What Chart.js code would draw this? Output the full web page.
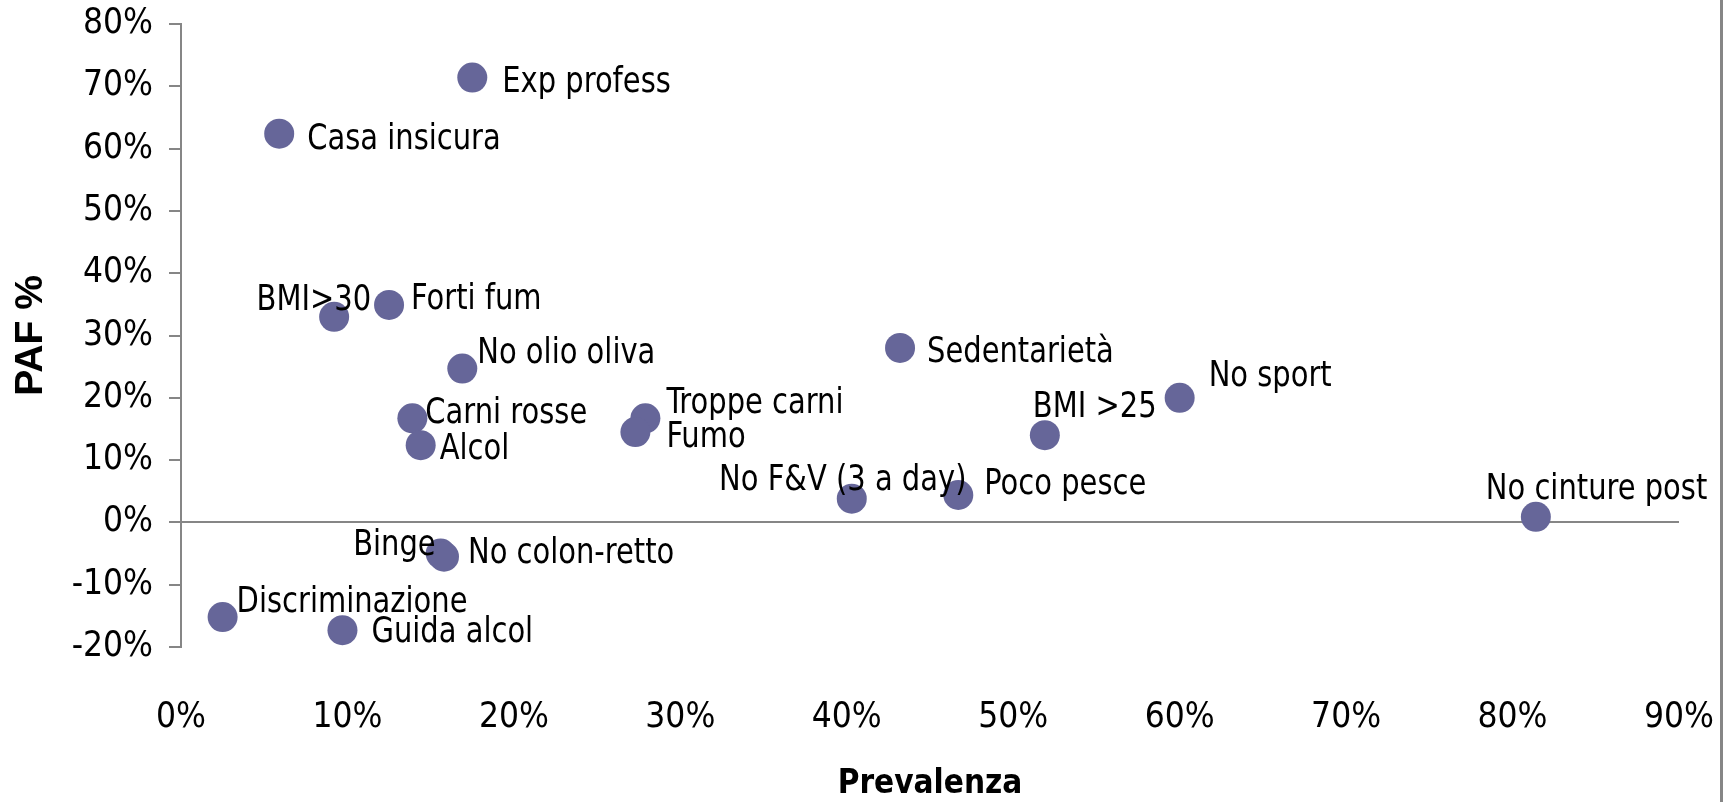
<!DOCTYPE html>
<html>
<head>
<meta charset="utf-8">
<script src="https://cdn.jsdelivr.net/npm/chart.js@4"></script>
<style>
    body { margin: 0; background: #fff; }
    #wrap { width: 1723px; height: 802px; position: relative; }
</style>
</head>
<body>
<div id="wrap"><canvas id="scatter" width="1723" height="802"></canvas></div>
<script>
// fattori di rischio: prevalenza (x) e PAF (y), in %
const fattori = ['Exp profess', 'Casa insicura', 'BMI>30', 'Forti fum', 'No olio oliva',
    'Carni rosse', 'Alcol', 'Troppe carni', 'Fumo', 'Binge', 'No colon-retto',
    'Discriminazione', 'Guida alcol', 'Sedentarietà', 'No sport', 'BMI >25',
    'No F&V (3 a day)', 'Poco pesce', 'No cinture post'];
const prevalenza = [17.5, 5.9, 9.2, 12.5, 16.9, 13.9, 14.4, 27.9, 27.3, 15.6, 15.8,
    2.5, 9.7, 43.2, 60.0, 51.9, 40.3, 46.7, 81.4];
const paf = [71.4, 62.4, 33.0, 34.9, 24.7, 16.7, 12.4, 16.7, 14.5, -5.0, -5.5,
    -15.2, -17.3, 28.0, 20.0, 14.0, 3.8, 4.4, 0.9];
const xTicks = [0, 10, 20, 30, 40, 50, 60, 70, 80, 90];
const yTicks = [-20, -10, 0, 10, 20, 30, 40, 50, 60, 70, 80];

const FONT = '"DejaVu Sans Condensed", "DejaVu Sans", sans-serif';
const axisGrey = '#868686';

// where each label sits relative to its marker: dx, dy, align
const labelPos = {
    'Exp profess': [30, 5, 'left'],
    'Casa insicura': [28, 6, 'left'],
    'BMI>30': [37, -16, 'right'],
    'Forti fum': [22, -5, 'left'],
    'No olio oliva': [15, -15, 'left'],
    'Carni rosse': [13, -4, 'left'],
    'Alcol': [19, 5, 'left'],
    'Troppe carni': [21, -14, 'left'],
    'Fumo': [31, 6, 'left'],
    'Binge': [-5, -8, 'right'],
    'No colon-retto': [24, -3, 'left'],
    'Discriminazione': [14, -14, 'left'],
    'Guida alcol': [29, 3, 'left'],
    'Sedentarietà': [27, 5, 'left'],
    'No sport': [29, -21, 'left'],
    'BMI >25': [-12, -27, 'left'],
    'No F&V (3 a day)': [-9, -18, 'center'],
    'Poco pesce': [26, -10, 'left'],
    'No cinture post': [-50, -27, 'left']
};
const squeeze = 0.92;

const pointLabels = {
    id: 'pointLabels',
    afterDatasetsDraw(chart) {
        const ctx = chart.ctx;
        const meta = chart.getDatasetMeta(0);
        ctx.save();
        ctx.font = '35px ' + FONT;
        ctx.fillStyle = '#000';
        ctx.textBaseline = 'middle';
        meta.data.forEach((pt, i) => {
            const p = labelPos[fattori[i]] || [20, 0, 'left'];
            ctx.save();
            ctx.translate(pt.x + p[0], pt.y + p[1]);
            ctx.scale(squeeze, 1);
            ctx.textAlign = p[2];
            ctx.fillText(fattori[i], 0, 0);
            ctx.restore();
        });
        ctx.restore();
    }
};

const rightBorder = {
    id: 'rightBorder',
    afterDraw(chart) {
        const ctx = chart.ctx;
        ctx.save();
        ctx.fillStyle = axisGrey;
        ctx.fillRect(chart.width - 3, 0, 3, chart.height);
        ctx.restore();
    }
};

const tickList = (list) => (scale) => {
    scale.ticks = list.map(v => ({ value: v }));
};

new Chart(document.getElementById('scatter'), {
    type: 'scatter',
    data: {
        datasets: [{
            label: 'PAF',
            data: prevalenza.map((x, i) => ({ x: x, y: paf[i] })),
            backgroundColor: '#666699',
            borderColor: '#666699',
            pointRadius: 15,
            pointHoverRadius: 15,
            borderWidth: 0
        }]
    },
    options: {
        responsive: false,
        animation: false,
        events: [],
        layout: { padding: { top: 24, right: 44, left: 0, bottom: 0 } },
        plugins: {
            legend: { display: false },
            tooltip: { enabled: false }
        },
        scales: {
            x: {
                type: 'linear',
                min: 0,
                max: 90,
                afterBuildTicks: tickList(xTicks),
                afterFit: (s) => { s.height = 155; s.paddingLeft = 0; s.paddingRight = 0; },
                border: { display: false },
                grid: { display: false, drawTicks: false },
                ticks: {
                    padding: 50,
                    color: '#000',
                    font: { family: FONT, size: 35 },
                    maxRotation: 0,
                    callback: v => v + '%'
                },
                title: {
                    display: true,
                    text: 'Prevalenza',
                    color: '#000',
                    font: { family: FONT, size: 33, weight: 'bold', lineHeight: 1.0 },
                    padding: { top: 0, bottom: 1 }
                }
            },
            y: {
                type: 'linear',
                min: -20,
                max: 80,
                afterBuildTicks: tickList(yTicks),
                afterFit: (s) => { s.width = 181; s.paddingTop = 0; s.paddingBottom = 0; },
                border: { display: true, color: axisGrey, width: 2 },
                grid: {
                    color: c => (c.tick && c.tick.value === 0) ? axisGrey : 'rgba(0,0,0,0)',
                    tickColor: axisGrey,
                    lineWidth: 2,
                    tickLength: 12
                },
                ticks: {
                    padding: 16,
                    color: '#000',
                    font: { family: FONT, size: 35 },
                    callback: v => v + '%'
                },
                title: {
                    display: true,
                    text: 'PAF %',
                    color: '#000',
                    font: { family: '"Liberation Sans", Arial, sans-serif', size: 39, weight: 'bold' },
                    padding: { top: 8, bottom: 0 }
                }
            }
        }
    },
    plugins: [pointLabels, rightBorder]
});
</script>
</body>
</html>
